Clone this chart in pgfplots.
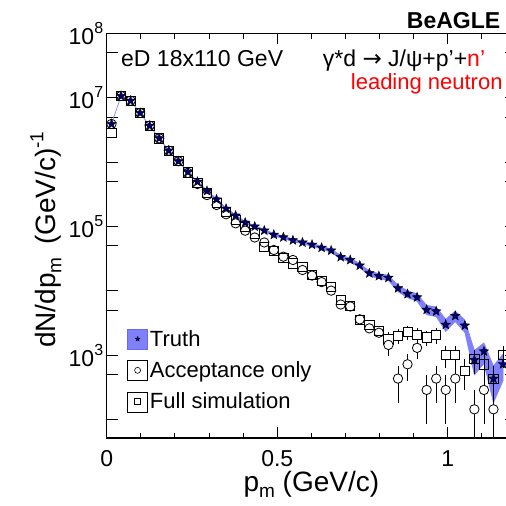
\documentclass[border=0pt]{standalone}
\usepackage{fontspec}
\setmainfont{Liberation Sans}
\newfontfamily\djv{DejaVu Sans}
\usepackage{pgfplots}
\usepackage{pgfplotstable}
\pgfplotsset{compat=1.18}
\usetikzlibrary{plotmarks}

\definecolor{bandcol}{RGB}{128,128,250}
\definecolor{bandedge}{RGB}{105,105,235}
\definecolor{starcol}{RGB}{0,0,110}

\newcommand\supt[1]{\raisebox{11bp}{\fontsize{16bp}{16bp}\selectfont #1}}
\newcommand\supl[1]{\raisebox{12bp}{\fontsize{19bp}{19bp}\selectfont #1}}
\newcommand\subl[1]{\raisebox{-6bp}{\fontsize{19bp}{19bp}\selectfont #1}}
\newcommand\sq{\symbol{39}}

\pgfdeclareplotmark{fstar}{%
  \pgfpathmoveto{\pgfpointpolar{90}{\pgfplotmarksize}}%
  \pgfpathlineto{\pgfpointpolar{126}{0.42*\pgfplotmarksize}}%
  \pgfpathlineto{\pgfpointpolar{162}{\pgfplotmarksize}}%
  \pgfpathlineto{\pgfpointpolar{198}{0.42*\pgfplotmarksize}}%
  \pgfpathlineto{\pgfpointpolar{234}{\pgfplotmarksize}}%
  \pgfpathlineto{\pgfpointpolar{270}{0.42*\pgfplotmarksize}}%
  \pgfpathlineto{\pgfpointpolar{306}{\pgfplotmarksize}}%
  \pgfpathlineto{\pgfpointpolar{342}{0.42*\pgfplotmarksize}}%
  \pgfpathlineto{\pgfpointpolar{18}{\pgfplotmarksize}}%
  \pgfpathlineto{\pgfpointpolar{54}{0.42*\pgfplotmarksize}}%
  \pgfpathclose
  \pgfusepathqfillstroke
}

\pgfplotstableread{
p y
0.014 3.91e6
0.042 1.063e7
0.070 8.98e6
0.098 5.79e6
0.126 3.67e6
0.154 2.34e6
0.182 1.51e6
0.210 1.03e6
0.238 7.02e5
0.266 4.96e5
0.294 3.56e5
0.322 2.64e5
0.350 1.89e5
0.378 1.48e5
0.406 1.15e5
0.434 1.00e5
0.462 8.67e4
0.490 7.46e4
0.518 6.80e4
0.546 6.11e4
0.574 5.65e4
0.602 5.22e4
0.630 4.69e4
0.658 4.24e4
0.686 3.36e4
0.714 3.02e4
0.742 2.48e4
0.770 1.88e4
0.798 1.70e4
0.826 1.60e4
0.854 1.10e4
0.882 8950
0.910 7960
0.938 5110
0.966 4820
0.994 2990
1.022 4100
1.050 2900
1.078 845
1.106 1153
1.134 434
1.162 728
}\truth

\pgfplotstableread{
p y
0.014 3.91e6
0.042 1.063e7
0.070 8.98e6
0.098 5.79e6
0.126 3.67e6
0.154 2.34e6
0.182 1.51e6
0.210 1.03e6
0.238 6.8e5
0.266 4.57e5
0.294 3.08e5
0.322 2.16e5
0.350 1.55e5
0.378 1.12e5
0.406 8.61e4
0.434 6.75e4
0.462 5.65e4
0.490 4.32e4
0.518 3.40e4
0.546 3.02e4
0.574 2.11e4
0.602 1.73e4
0.630 1.37e4
0.658 1.01e4
0.686 6.15e3
0.714 5.73e3
0.742 3.62e3
0.770 2.62e3
0.798 2.24e3
}\accA

\pgfplotstableread{
p y e
0.826 1450 458
0.854 435 251
0.882 725 324
0.910 1305 435
0.938 290 205
0.966 435 251
0.994 290 205
1.022 435 251
1.078 145 144.9
1.106 290 205
1.134 145 144.9
}\accB

\pgfplotstableread{
p y
0.014 2.86e6
0.042 1.063e7
0.070 8.98e6
0.098 5.79e6
0.126 3.67e6
0.154 2.34e6
0.182 1.51e6
0.210 1.03e6
0.238 6.9e5
0.266 4.8e5
0.294 3.3e5
0.322 2.32e5
0.350 1.70e5
0.378 1.26e5
0.406 9.82e4
0.434 7.84e4
0.462 4.80e4
0.490 4.24e4
0.518 3.30e4
0.546 2.68e4
0.574 2.38e4
0.602 1.77e4
0.630 1.43e4
0.658 1.17e4
0.686 7.22e3
0.714 5.93e3
0.742 3.53e3
0.770 2.95e3
0.798 2.38e3
}\simA

\pgfplotstableread{
p y e
0.826 1770 507
0.854 2030 543
0.882 2300 577
0.910 2070 548
0.938 1900 525
0.966 2070 548
0.994 1015 384
1.022 1015 384
1.050 580 290
}\simB

\pgfplotstableread{
p y e
1.078 870 355
1.106 725 324
1.134 435 251
1.162 1015 384
}\simC

\begin{document}
\begin{tikzpicture}
\begin{axis}[name=ax, scale only axis, width=409.3bp, height=404.7bp,
  xmin=0, xmax=1.2, ymode=log, ymin=52, ymax=1e8,
  xtick={0,0.5,1}, xticklabels={0,0.5,1},
  minor xtick={0.1,0.2,0.3,0.4,0.6,0.7,0.8,0.9,1.1},
  ytick={1e2,1e3,1e4,1e5,1e6,1e7,1e8},
  yticklabels={,10\supt{3},,10\supt{5},,10\supt{7},10\supt{8}},
  extra y ticks={5e2,5e3,5e4,5e5,5e6,5e7}, extra y tick labels={},
  yminorticks=false,
  tick pos=both, tick align=inside,
  major tick length=11bp, minor tick length=5.5bp,
  every tick/.style={black, line width=0.9bp},
  axis line style={line width=1.1bp},
  tick label style={font=\fontsize{23bp}{23bp}\selectfont},
  xticklabel style={anchor=base, yshift=-28.7bp},
  xlabel={p\subl{m} (GeV/c)},
  ylabel={dN/dp\subl{m}\hspace{0.45em}(GeV/c)\supl{-1}},
  label style={font=\fontsize{28bp}{28bp}\selectfont},
  xlabel style={at={(axis description cs:0.5,-0.131)}, anchor=base},
  ylabel style={at={(axis description cs:-0.1251,0.49)}, anchor=base},
  legend style={at={(rel axis cs:0.0496,0.2718)}, anchor=north west, draw=none, fill=none,
    inner sep=0pt, font=\fontsize{22bp}{26bp}\selectfont, row sep=10bp},
  legend cell align=left,
]
\addlegendimage{legend image code/.code={%
  \draw[fill=bandcol, draw=bandedge, line width=0.8bp] (0bp,-10bp) rectangle (20bp,10bp);
  \draw[fill=starcol, draw=black, line width=0.3bp, mark=fstar, mark size=2.6bp, only marks] plot coordinates {(10bp,0bp)};}}
\addlegendentry{Truth}
\addlegendimage{legend image code/.code={%
  \path (0bp,-10bp) rectangle (20bp,10bp);
  \draw[black, line width=0.6bp, mark=o, mark size=3bp, only marks] plot coordinates {(10bp,0bp)};}}
\addlegendentry{Acceptance only}
\addlegendimage{legend image code/.code={%
  \path (0bp,-10bp) rectangle (20bp,10bp);
  \draw[black, line width=0.6bp, mark=square, mark size=3bp, only marks] plot coordinates {(10bp,0bp)};}}
\addlegendentry{Full simulation}

% truth uncertainty band (y +- error)
\addplot[fill=bandcol, draw=bandcol, line width=0.5bp, forget plot] coordinates {
(0.014,3.934e6) (0.042,1.0669e7) (0.070,9.016e6) (0.098,5.819e6) (0.126,3.693e6)
(0.154,2.358e6) (0.182,1.5248e6) (0.210,1.0422e6) (0.238,7.121e5) (0.266,5.045e5)
(0.294,3.632e5) (0.322,2.702e5) (0.350,1.942e5) (0.378,1.526e5) (0.406,1.191e5)
(0.434,1.038e5) (0.462,9.025e4) (0.490,7.789e4) (0.518,7.114e4) (0.546,6.408e4)
(0.574,5.936e4) (0.602,5.495e4) (0.630,4.951e4) (0.658,4.488e4) (0.686,3.581e4)
(0.714,3.229e4) (0.742,2.670e4) (0.770,2.045e4) (0.798,1.857e4) (0.826,1.752e4)
(0.854,1.226e4) (0.882,10089) (0.910,9034) (0.938,5971) (0.966,5656)
(0.994,3648) (1.022,4871) (1.050,3548) (1.078,1195) (1.106,1562)
(1.134,685) (1.162,1053)
(1.162,403) (1.134,183) (1.106,744) (1.078,495) (1.050,2252)
(1.022,3329) (0.994,2332) (0.966,3984) (0.938,4249) (0.910,6886)
(0.882,7811) (0.854,9737) (0.826,1.448e4) (0.798,1.543e4) (0.770,1.715e4)
(0.742,2.290e4) (0.714,2.811e4) (0.686,3.139e4) (0.658,3.992e4) (0.630,4.429e4)
(0.602,4.945e4) (0.574,5.364e4) (0.546,5.812e4) (0.518,6.486e4) (0.490,7.131e4)
(0.462,8.315e4) (0.434,9.62e4) (0.406,1.109e5) (0.378,1.434e5) (0.350,1.838e5)
(0.322,2.578e5) (0.294,3.488e5) (0.266,4.875e5) (0.238,6.919e5) (0.210,1.0178e6)
(0.182,1.4952e6) (0.154,2.322e6) (0.126,3.647e6) (0.098,5.761e6) (0.070,8.944e6)
(0.042,1.0591e7) (0.014,3.886e6)
} -- cycle;

% Full simulation
\addplot[only marks, mark=square, mark size=4.6bp, mark options={draw=black, line width=0.8bp}, forget plot]
  table[x=p, y=y] {\simA};
\addplot[only marks, mark=square*, mark size=4.6bp, mark options={fill=white, draw=black, line width=0.8bp}, forget plot,
  error bars/.cd, y dir=both, y explicit, error mark=none, error bar style={line width=0.8bp, black}]
  table[x=p, y=y, y error=e] {\simB};
\addplot[only marks, mark=square, mark size=4.6bp, mark options={draw=black, line width=0.8bp}, forget plot,
  error bars/.cd, y dir=both, y explicit, error mark=none, error bar style={line width=0.8bp, black}]
  table[x=p, y=y, y error=e] {\simC};

% Acceptance only
\addplot[only marks, mark=o, mark size=4.7bp, mark options={draw=black, line width=0.8bp}, forget plot]
  table[x=p, y=y] {\accA};
\addplot[only marks, mark=*, mark size=4.7bp, mark options={fill=white, draw=black, line width=0.8bp}, forget plot,
  error bars/.cd, y dir=both, y explicit, error mark=none, error bar style={line width=0.8bp, black}]
  table[x=p, y=y, y error=e] {\accB};

% Truth
\addplot[only marks, mark=fstar, mark size=5bp, mark options={fill=starcol, draw=black, line width=0.4bp}, forget plot]
  table[x=p, y=y] {\truth};
\end{axis}

\node[anchor=base west, inner sep=0pt, font=\fontsize{23bp}{23bp}\selectfont]
  at ([xshift=14.3bp, yshift=-33.2bp]ax.north west) {eD 18x110 GeV};
\node[anchor=base west, inner sep=0pt, font=\fontsize{23bp}{23bp}\selectfont]
  at ([xshift=216bp, yshift=-33.2bp]ax.north west) {γ*d {\djv →} J/ψ+p\sq+\textcolor{red}{n\sq}};
\node[anchor=base west, inner sep=0pt, font=\fontsize{22bp}{22bp}\selectfont, text=red]
  at ([xshift=244bp, yshift=-56.7bp]ax.north west) {leading neutron};
\node[anchor=base west, inner sep=0pt, font=\fontsize{23bp}{23bp}\selectfont\bfseries]
  at ([xshift=300bp, yshift=4.8bp]ax.north west) {BeAGLE};

\pgfresetboundingbox
\path[use as bounding box] ([xshift=-106.7bp, yshift=-68bp]ax.south west) rectangle ([xshift=-10bp, yshift=33.3bp]ax.north east);
\end{tikzpicture}
\end{document}
